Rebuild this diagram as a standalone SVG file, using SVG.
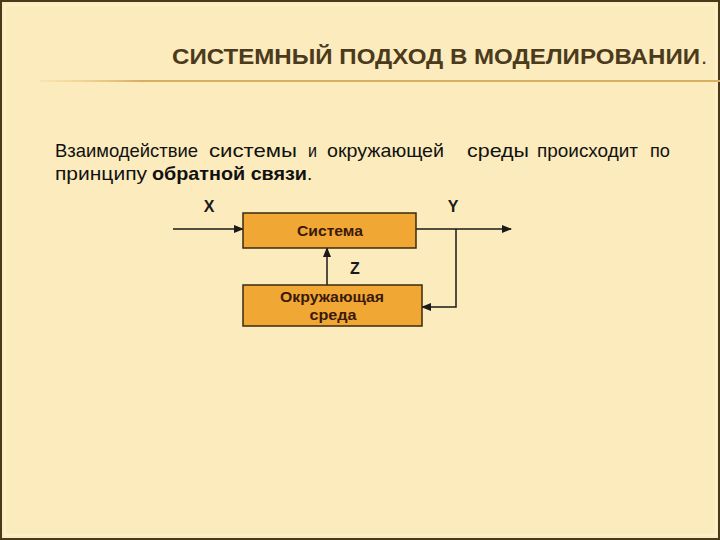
<svg xmlns="http://www.w3.org/2000/svg" width="720" height="540" viewBox="0 0 720 540">
<defs>
<style>
.box{fill:#F0A733;stroke:#3A2A12;stroke-width:1.5}
.bt{font-family:"Liberation Sans",Arial,sans-serif;font-weight:bold;fill:#3A1A0A;text-anchor:middle}
.lbl{font-family:"Liberation Sans",Arial,sans-serif;font-weight:bold;font-size:16px;fill:#1A1A1A;text-anchor:middle}
.ln{fill:none;stroke:#1A1A1A;stroke-width:1.5}
.body{font-family:"Liberation Sans",Arial,sans-serif;font-size:19px;fill:#111}
</style>
<marker id="ah" markerWidth="10" markerHeight="8" refX="9" refY="4" orient="auto" markerUnits="userSpaceOnUse">
<path d="M0,0 L10,4 L0,8 Z" fill="#1A1A1A"/>
</marker>
<linearGradient id="rule" x1="0" x2="1" y1="0" y2="0">
<stop offset="0" stop-color="#F3D28E" stop-opacity="0.3"/>
<stop offset="0.15" stop-color="#D8AE60"/>
<stop offset="1" stop-color="#D8AE60"/>
</linearGradient>
</defs>
<rect x="0" y="0" width="720" height="540" fill="#FCEBBC"/>
<rect x="1" y="1" width="718" height="538" fill="none" stroke="#4A3A1A" stroke-width="2"/>
<rect x="5" y="5" width="711" height="530" fill="none" stroke="#FFF6DA" stroke-width="1"/>
<g id="title">
<text x="172" y="64" font-family="'Liberation Sans',Arial,sans-serif" font-weight="bold" font-size="22" fill="#4B3A1C" textLength="528" lengthAdjust="spacingAndGlyphs">СИСТЕМНЫЙ ПОДХОД В МОДЕЛИРОВАНИИ</text>
<text x="701" y="64" font-family="'Liberation Sans',Arial,sans-serif" font-size="22" fill="#4B3A1C">.</text>
<rect x="40" y="80" width="680" height="2" fill="url(#rule)"/>
</g>
<g id="body-text">
<text class="body" y="157"><tspan x="55" textLength="143" lengthAdjust="spacingAndGlyphs">Взаимодействие</tspan><tspan x="209" textLength="88" lengthAdjust="spacingAndGlyphs">системы</tspan><tspan x="308" textLength="9" lengthAdjust="spacingAndGlyphs">и</tspan><tspan x="327" textLength="117" lengthAdjust="spacingAndGlyphs">окружающей</tspan><tspan x="467" textLength="62" lengthAdjust="spacingAndGlyphs">среды</tspan><tspan x="537" textLength="101" lengthAdjust="spacingAndGlyphs">происходит</tspan><tspan x="650" textLength="20" lengthAdjust="spacingAndGlyphs">по</tspan></text>
<text class="body" y="180"><tspan x="55" textLength="92" lengthAdjust="spacingAndGlyphs">принципу</tspan><tspan x="152" font-weight="bold" textLength="155" lengthAdjust="spacingAndGlyphs">обратной связи</tspan><tspan x="307">.</tspan></text>
</g>
<g id="connectors">
<line class="ln" x1="173" y1="229" x2="243" y2="229" marker-end="url(#ah)"/>
<line class="ln" x1="416" y1="229" x2="511" y2="229" marker-end="url(#ah)"/>
<polyline class="ln" points="456,229 456,307 422,307" marker-end="url(#ah)"/>
<line class="ln" x1="327" y1="285" x2="327" y2="248" marker-end="url(#ah)" stroke-width="2"/>
</g>
<g id="system">
<rect class="box" x="243" y="213" width="173" height="35"/>
<text class="bt" x="330" y="236" font-size="15" textLength="66" lengthAdjust="spacingAndGlyphs">Система</text>
</g>
<g id="environment">
<rect class="box" x="243" y="285" width="179" height="41"/>
<text class="bt" x="332" y="302" font-size="14" textLength="104" lengthAdjust="spacingAndGlyphs">Окружающая</text>
<text class="bt" x="333" y="320" font-size="14" textLength="47" lengthAdjust="spacingAndGlyphs">среда</text>
</g>
<g id="labels">
<text class="lbl" x="209" y="212">X</text>
<text class="lbl" x="453" y="212">Y</text>
<text class="lbl" x="355" y="274">Z</text>
</g>
</svg>
